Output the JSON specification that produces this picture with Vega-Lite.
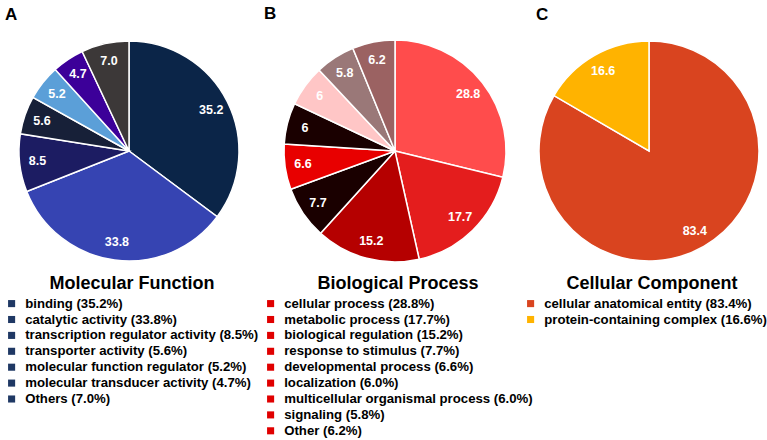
{
  "$schema": "https://vega.github.io/schema/vega-lite/v6.json",
  "background": "white",
  "padding": {"left": 5, "right": 2, "top": 5, "bottom": 1},
  "bounds": "flush",
  "spacing": 11,
  "resolve": {"scale": {"color": "independent", "opacity": "independent"}, "legend": {"color": "independent", "opacity": "independent"}},
  "config": {
    "view": {"stroke": null},
    "font": "Liberation Sans",
    "title": {"anchor": "start", "fontSize": 17, "fontWeight": "bold", "color": "black", "offset": 14, "font": "Liberation Sans"},
    "legend": {
      "orient": "bottom",
      "direction": "vertical",
      "offset": 14,
      "padding": 0,
      "titleFont": "Liberation Sans",
      "titleFontSize": 18,
      "titleFontWeight": "bold",
      "titleColor": "black",
      "titleAnchor": "middle",
      "titlePadding": 4,
      "titleLimit": 400,
      "labelFont": "Liberation Sans",
      "labelFontSize": 13.2,
      "labelFontWeight": "bold",
      "labelColor": "black",
      "labelLimit": 400,
      "labelOffset": 7,
      "symbolType": "square",
      "symbolSize": 50,
      "symbolStrokeWidth": 0,
      "rowPadding": 1.9
    }
  },
  "datasets": {
    "mf": [
      {"idx": 1, "category": "binding", "value": 35.2, "lbl": "35.2", "label": "binding (35.2%)"},
      {"idx": 2, "category": "catalytic activity", "value": 33.8, "lbl": "33.8", "label": "catalytic activity (33.8%)"},
      {"idx": 3, "category": "transcription regulator activity", "value": 8.5, "lbl": "8.5", "label": "transcription regulator activity (8.5%)"},
      {"idx": 4, "category": "transporter activity", "value": 5.6, "lbl": "5.6", "label": "transporter activity (5.6%)"},
      {"idx": 5, "category": "molecular function regulator", "value": 5.2, "lbl": "5.2", "label": "molecular function regulator (5.2%)"},
      {"idx": 6, "category": "molecular transducer activity", "value": 4.7, "lbl": "4.7", "label": "molecular transducer activity (4.7%)"},
      {"idx": 7, "category": "Others", "value": 7.0, "lbl": "7.0", "label": "Others (7.0%)"}
    ],
    "bp": [
      {"idx": 1, "category": "cellular process", "value": 28.8, "lbl": "28.8", "label": "cellular process (28.8%)"},
      {"idx": 2, "category": "metabolic process", "value": 17.7, "lbl": "17.7", "label": "metabolic process (17.7%)"},
      {"idx": 3, "category": "biological regulation", "value": 15.2, "lbl": "15.2", "label": "biological regulation (15.2%)"},
      {"idx": 4, "category": "response to stimulus", "value": 7.7, "lbl": "7.7", "label": "response to stimulus (7.7%)"},
      {"idx": 5, "category": "developmental process", "value": 6.6, "lbl": "6.6", "label": "developmental process (6.6%)"},
      {"idx": 6, "category": "localization", "value": 6.0, "lbl": "6", "label": "localization (6.0%)"},
      {"idx": 7, "category": "multicellular organismal process", "value": 6.0, "lbl": "6", "label": "multicellular organismal process (6.0%)"},
      {"idx": 8, "category": "signaling", "value": 5.8, "lbl": "5.8", "label": "signaling (5.8%)"},
      {"idx": 9, "category": "Other", "value": 6.2, "lbl": "6.2", "label": "Other (6.2%)"}
    ],
    "cc": [
      {"idx": 1, "category": "cellular anatomical entity", "value": 83.4, "lbl": "83.4", "label": "cellular anatomical entity (83.4%)"},
      {"idx": 2, "category": "protein-containing complex", "value": 16.6, "lbl": "16.6", "label": "protein-containing complex (16.6%)"}
    ]
  },
  "hconcat": [
    {
      "width": 248,
      "height": 220,
      "title": {"text": "A"},
      "data": {"name": "mf"},
      "encoding": {
        "theta": {"field": "value", "type": "quantitative", "stack": true},
        "order": {"field": "idx", "type": "quantitative"}
      },
      "layer": [
        {
          "mark": {"type": "arc", "outerRadius": 110, "stroke": "white", "strokeWidth": 1.5},
          "encoding": {
            "color": {
              "field": "category", "type": "nominal",
              "scale": {
                "domain": ["binding", "catalytic activity", "transcription regulator activity", "transporter activity", "molecular function regulator", "molecular transducer activity", "Others"],
                "range": ["#0b2548", "#3644b2", "#1c1c62", "#172038", "#5b9fd8", "#3c0099", "#3c3838"]
              },
              "legend": null
            },
            "opacity": {
              "field": "label", "type": "ordinal",
              "scale": {
                "type": "ordinal",
                "domain": ["binding (35.2%)", "catalytic activity (33.8%)", "transcription regulator activity (8.5%)", "transporter activity (5.6%)", "molecular function regulator (5.2%)", "molecular transducer activity (4.7%)", "Others (7.0%)"],
                "range": [1, 1, 1, 1, 1, 1, 1]
              },
              "legend": {"title": "Molecular Function", "symbolFillColor": "#1f3864", "symbolStrokeWidth": 0}
            }
          }
        },
        {
          "mark": {"type": "text", "radius": 92, "fill": "white", "fontWeight": "bold", "fontSize": 12.5, "font": "Liberation Sans"},
          "encoding": {"text": {"field": "lbl", "type": "nominal"}}
        }
      ]
    },
    {
      "width": 262,
      "height": 220,
      "title": {"text": "B"},
      "data": {"name": "bp"},
      "encoding": {
        "theta": {"field": "value", "type": "quantitative", "stack": true},
        "order": {"field": "idx", "type": "quantitative"}
      },
      "layer": [
        {
          "mark": {"type": "arc", "outerRadius": 111, "stroke": "white", "strokeWidth": 1.5},
          "encoding": {
            "color": {
              "field": "category", "type": "nominal",
              "scale": {
                "domain": ["cellular process", "metabolic process", "biological regulation", "response to stimulus", "developmental process", "localization", "multicellular organismal process", "signaling", "Other"],
                "range": ["#ff4c4c", "#e41d1d", "#b50000", "#1a0000", "#e80000", "#1a0000", "#ffc6c6", "#9a7878", "#9b6262"]
              },
              "legend": null
            },
            "opacity": {
              "field": "label", "type": "ordinal",
              "scale": {
                "type": "ordinal",
                "domain": ["cellular process (28.8%)", "metabolic process (17.7%)", "biological regulation (15.2%)", "response to stimulus (7.7%)", "developmental process (6.6%)", "localization (6.0%)", "multicellular organismal process (6.0%)", "signaling (5.8%)", "Other (6.2%)"],
                "range": [1, 1, 1, 1, 1, 1, 1, 1, 1]
              },
              "legend": {"title": "Biological Process", "symbolFillColor": "#e00000", "symbolStrokeWidth": 0}
            }
          }
        },
        {
          "mark": {"type": "text", "radius": 93, "fill": "white", "fontWeight": "bold", "fontSize": 12.5, "font": "Liberation Sans"},
          "encoding": {"text": {"field": "lbl", "type": "nominal"}}
        }
      ]
    },
    {
      "width": 224,
      "height": 220,
      "title": {"text": "C"},
      "data": {"name": "cc"},
      "encoding": {
        "theta": {"field": "value", "type": "quantitative", "stack": true},
        "order": {"field": "idx", "type": "quantitative"}
      },
      "layer": [
        {
          "mark": {"type": "arc", "outerRadius": 110, "stroke": "white", "strokeWidth": 1.5},
          "encoding": {
            "color": {
              "field": "label", "type": "nominal",
              "scale": {
                "domain": ["cellular anatomical entity (83.4%)", "protein-containing complex (16.6%)"],
                "range": ["#d9441f", "#ffb300"]
              },
              "legend": {"title": "Cellular Component", "symbolStrokeWidth": 0, "symbolOffset": -13}
            }
          }
        },
        {
          "mark": {"type": "text", "radius": 92, "fill": "white", "fontWeight": "bold", "fontSize": 12.5, "font": "Liberation Sans"},
          "encoding": {"text": {"field": "lbl", "type": "nominal"}}
        }
      ]
    }
  ]
}
